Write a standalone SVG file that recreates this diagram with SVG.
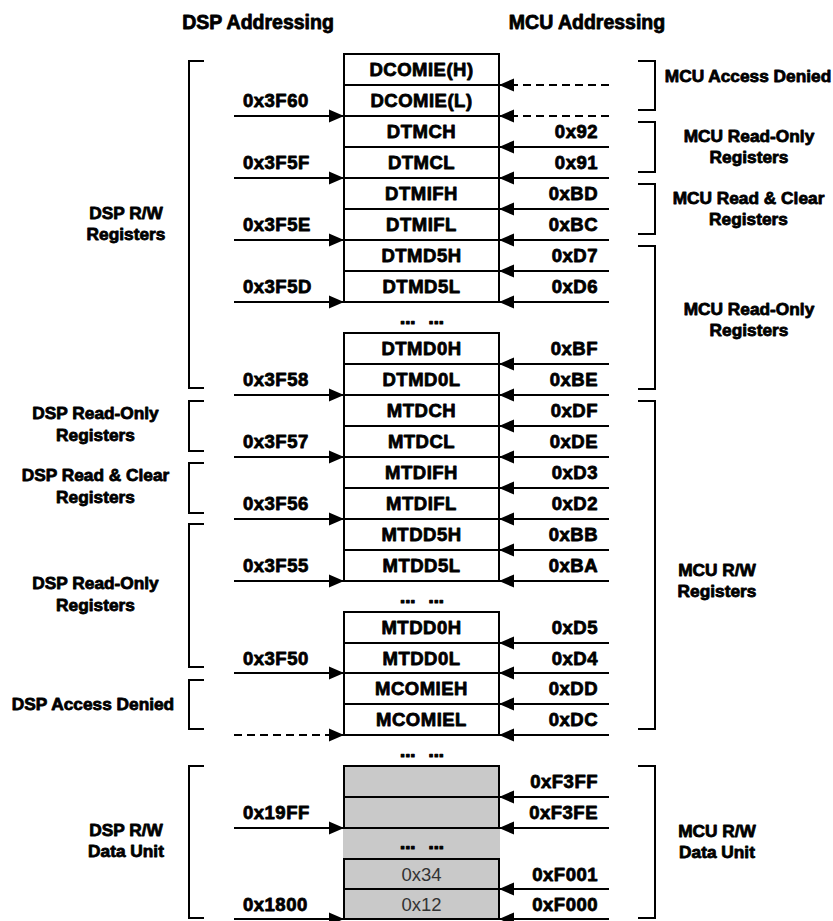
<svg xmlns="http://www.w3.org/2000/svg" width="833" height="921" viewBox="0 0 833 921">
<style>
text{font-family:"Liberation Sans",Arial,sans-serif;font-weight:bold;fill:#000;stroke:#000;stroke-width:0.8;stroke-linejoin:round}
.h{font-size:19.5px;text-anchor:middle}
.c{font-size:18.5px;text-anchor:middle;letter-spacing:0.5px}
.v{font-size:18.5px;font-weight:normal;stroke:none;fill:#333;text-anchor:middle}
.l{font-size:18.5px;text-anchor:start;letter-spacing:0.5px}
.r{font-size:18.5px;text-anchor:end;letter-spacing:0.5px}
.b{font-size:17.3px;text-anchor:middle}
.d{font-size:18.5px;text-anchor:middle;word-spacing:8px;stroke-width:1.2}
.cell{fill:#fff;stroke:#000;stroke-width:2}
.gcell{fill:#c9c9c9;stroke:#000;stroke-width:2}
.ar{stroke:#000;stroke-width:2;fill:none;marker-end:url(#ah)}
.da{stroke:#000;stroke-width:2;fill:none;stroke-dasharray:8,5;marker-end:url(#ah)}
.br{stroke:#000;stroke-width:2;fill:none}
</style>
<defs>
<marker id="ah" markerUnits="userSpaceOnUse" markerWidth="16" markerHeight="14" refX="15" refY="7" orient="auto">
<path d="M0,0.5 L15,7 L0,13.5 Z" fill="#000"/>
</marker>
</defs>
<rect width="833" height="921" fill="#fff"/>

<g id="headers">
<text class="h" x="258" y="29">DSP Addressing</text>
<text class="h" x="587" y="29">MCU Addressing</text>
</g>

<g id="brackets">
<path class="br" d="M204,61 H189 V388 H204"/>
<path class="br" d="M204,401 H189 V451 H204"/>
<path class="br" d="M204,463 H189 V513 H204"/>
<path class="br" d="M204,524 H189 V667 H204"/>
<path class="br" d="M204,680 H189 V729 H204"/>
<path class="br" d="M204,766 H189 V918 H204"/>
<path class="br" d="M638,61 H655 V110 H638"/>
<path class="br" d="M638,122 H655 V172 H638"/>
<path class="br" d="M638,184 H655 V234 H638"/>
<path class="br" d="M638,246 H655 V389 H638"/>
<path class="br" d="M638,401 H655 V729 H638"/>
<path class="br" d="M638,766 H655 V918 H638"/>
</g>

<g id="cells">
<g id="n-dcomieh"><rect class="cell" x="344" y="54" width="155" height="31"/><text class="c" x="421.5" y="75.5">DCOMIE(H)</text></g>
<g id="n-dcomiel"><rect class="cell" x="344" y="85" width="155" height="31"/><text class="c" x="421.5" y="106.5">DCOMIE(L)</text></g>
<g id="n-dtmch"><rect class="cell" x="344" y="116" width="155" height="31"/><text class="c" x="421.5" y="137.5">DTMCH</text></g>
<g id="n-dtmcl"><rect class="cell" x="344" y="147" width="155" height="31"/><text class="c" x="421.5" y="168.5">DTMCL</text></g>
<g id="n-dtmifh"><rect class="cell" x="344" y="178" width="155" height="31"/><text class="c" x="421.5" y="199.5">DTMIFH</text></g>
<g id="n-dtmifl"><rect class="cell" x="344" y="209" width="155" height="31"/><text class="c" x="421.5" y="230.5">DTMIFL</text></g>
<g id="n-dtmd5h"><rect class="cell" x="344" y="240" width="155" height="31"/><text class="c" x="421.5" y="261.5">DTMD5H</text></g>
<g id="n-dtmd5l"><rect class="cell" x="344" y="271" width="155" height="31"/><text class="c" x="421.5" y="292.5">DTMD5L</text></g>
<g id="n-gap1"><text class="d" x="422" y="323.5">... ...</text></g>
<g id="n-dtmd0h"><rect class="cell" x="344" y="333" width="155" height="31"/><text class="c" x="421.5" y="354.5">DTMD0H</text></g>
<g id="n-dtmd0l"><rect class="cell" x="344" y="364" width="155" height="31"/><text class="c" x="421.5" y="385.5">DTMD0L</text></g>
<g id="n-mtdch"><rect class="cell" x="344" y="395" width="155" height="31"/><text class="c" x="421.5" y="416.5">MTDCH</text></g>
<g id="n-mtdcl"><rect class="cell" x="344" y="426" width="155" height="31"/><text class="c" x="421.5" y="447.5">MTDCL</text></g>
<g id="n-mtdifh"><rect class="cell" x="344" y="457" width="155" height="31"/><text class="c" x="421.5" y="478.5">MTDIFH</text></g>
<g id="n-mtdifl"><rect class="cell" x="344" y="488" width="155" height="31"/><text class="c" x="421.5" y="509.5">MTDIFL</text></g>
<g id="n-mtdd5h"><rect class="cell" x="344" y="519" width="155" height="31"/><text class="c" x="421.5" y="540.5">MTDD5H</text></g>
<g id="n-mtdd5l"><rect class="cell" x="344" y="550" width="155" height="31"/><text class="c" x="421.5" y="571.5">MTDD5L</text></g>
<g id="n-gap2"><text class="d" x="422" y="602.5">... ...</text></g>
<g id="n-mtdd0h"><rect class="cell" x="344" y="612" width="155" height="31"/><text class="c" x="421.5" y="633.5">MTDD0H</text></g>
<g id="n-mtdd0l"><rect class="cell" x="344" y="643" width="155" height="30"/><text class="c" x="421.5" y="664.5">MTDD0L</text></g>
<g id="n-mcomieh"><rect class="cell" x="344" y="673" width="155" height="31"/><text class="c" x="421.5" y="694.5">MCOMIEH</text></g>
<g id="n-mcomiel"><rect class="cell" x="344" y="704" width="155" height="31"/><text class="c" x="421.5" y="725.5">MCOMIEL</text></g>
<g id="n-gap3"><text class="d" x="422" y="757">... ...</text></g>
<g id="n-data1"><rect class="gcell" x="344" y="766" width="155" height="31"/></g>
<g id="n-data2"><rect class="gcell" x="344" y="797" width="155" height="31"/></g>
<g id="n-gap4"><rect x="343" y="829" width="157" height="29" fill="#c9c9c9"/><text class="d" x="422" y="849">... ...</text></g>
<g id="n-data3"><rect class="gcell" x="344" y="859" width="155" height="30"/><text class="v" x="421.5" y="880.5">0x34</text></g>
<g id="n-data4"><rect class="gcell" x="344" y="889" width="155" height="30"/><text class="v" x="421.5" y="910.5">0x12</text></g>
</g>

<g id="connectors">
<line class="ar" x1="234" y1="116" x2="344" y2="116"/>
<line class="ar" x1="234" y1="178" x2="344" y2="178"/>
<line class="ar" x1="234" y1="240" x2="344" y2="240"/>
<line class="ar" x1="234" y1="302" x2="344" y2="302"/>
<line class="ar" x1="234" y1="395" x2="344" y2="395"/>
<line class="ar" x1="234" y1="457" x2="344" y2="457"/>
<line class="ar" x1="234" y1="519" x2="344" y2="519"/>
<line class="ar" x1="234" y1="581" x2="344" y2="581"/>
<line class="ar" x1="234" y1="673" x2="344" y2="673"/>
<line class="da" x1="234" y1="735" x2="344" y2="735"/>
<line class="ar" x1="234" y1="828" x2="344" y2="828"/>
<line class="ar" x1="234" y1="919" x2="344" y2="919"/>

<line class="da" x1="609" y1="85" x2="499" y2="85"/>
<line class="da" x1="609" y1="116" x2="499" y2="116"/>
<line class="ar" x1="609" y1="147" x2="499" y2="147"/>
<line class="ar" x1="609" y1="178" x2="499" y2="178"/>
<line class="ar" x1="609" y1="209" x2="499" y2="209"/>
<line class="ar" x1="609" y1="240" x2="499" y2="240"/>
<line class="ar" x1="609" y1="271" x2="499" y2="271"/>
<line class="ar" x1="609" y1="302" x2="499" y2="302"/>
<line class="ar" x1="609" y1="364" x2="499" y2="364"/>
<line class="ar" x1="609" y1="395" x2="499" y2="395"/>
<line class="ar" x1="609" y1="426" x2="499" y2="426"/>
<line class="ar" x1="609" y1="457" x2="499" y2="457"/>
<line class="ar" x1="609" y1="488" x2="499" y2="488"/>
<line class="ar" x1="609" y1="519" x2="499" y2="519"/>
<line class="ar" x1="609" y1="550" x2="499" y2="550"/>
<line class="ar" x1="609" y1="581" x2="499" y2="581"/>
<line class="ar" x1="609" y1="643" x2="499" y2="643"/>
<line class="ar" x1="609" y1="673" x2="499" y2="673"/>
<line class="ar" x1="609" y1="704" x2="499" y2="704"/>
<line class="ar" x1="609" y1="735" x2="499" y2="735"/>
<line class="ar" x1="609" y1="797" x2="499" y2="797"/>
<line class="ar" x1="609" y1="828" x2="499" y2="828"/>
<line class="ar" x1="609" y1="889" x2="499" y2="889"/>
<line class="ar" x1="609" y1="919" x2="499" y2="919"/>
</g>

<g id="dsp-addresses">
<text class="l" x="243" y="106.5">0x3F60</text>
<text class="l" x="243" y="168.5">0x3F5F</text>
<text class="l" x="243" y="230.5">0x3F5E</text>
<text class="l" x="243" y="292.5">0x3F5D</text>
<text class="l" x="243" y="385.5">0x3F58</text>
<text class="l" x="243" y="447.5">0x3F57</text>
<text class="l" x="243" y="509.5">0x3F56</text>
<text class="l" x="243" y="571.5">0x3F55</text>
<text class="l" x="243" y="664.5">0x3F50</text>
<text class="l" x="243" y="818.5">0x19FF</text>
<text class="l" x="243" y="910.5">0x1800</text>
</g>

<g id="mcu-addresses">
<text class="r" x="598" y="137.5">0x92</text>
<text class="r" x="598" y="168.5">0x91</text>
<text class="r" x="598" y="199.5">0xBD</text>
<text class="r" x="598" y="230.5">0xBC</text>
<text class="r" x="598" y="261.5">0xD7</text>
<text class="r" x="598" y="292.5">0xD6</text>
<text class="r" x="598" y="354.5">0xBF</text>
<text class="r" x="598" y="385.5">0xBE</text>
<text class="r" x="598" y="416.5">0xDF</text>
<text class="r" x="598" y="447.5">0xDE</text>
<text class="r" x="598" y="478.5">0xD3</text>
<text class="r" x="598" y="509.5">0xD2</text>
<text class="r" x="598" y="540.5">0xBB</text>
<text class="r" x="598" y="571.5">0xBA</text>
<text class="r" x="598" y="633.5">0xD5</text>
<text class="r" x="598" y="664.5">0xD4</text>
<text class="r" x="598" y="694.5">0xDD</text>
<text class="r" x="598" y="725.5">0xDC</text>
<text class="r" x="598" y="787.5">0xF3FF</text>
<text class="r" x="598" y="818.5">0xF3FE</text>
<text class="r" x="598" y="880.5">0xF001</text>
<text class="r" x="598" y="910.5">0xF000</text>
</g>

<g id="dsp-labels">
<text class="b" x="126" y="219">DSP R/W</text>
<text class="b" x="126" y="240">Registers</text>
<text class="b" x="95.5" y="419">DSP Read-Only</text>
<text class="b" x="95.5" y="441">Registers</text>
<text class="b" x="95.5" y="481">DSP Read &amp; Clear</text>
<text class="b" x="95.5" y="503">Registers</text>
<text class="b" x="95.5" y="589">DSP Read-Only</text>
<text class="b" x="95.5" y="611">Registers</text>
<text class="b" x="93" y="710">DSP Access Denied</text>
<text class="b" x="126" y="836">DSP R/W</text>
<text class="b" x="126" y="857">Data Unit</text>
</g>

<g id="mcu-labels">
<text class="b" x="748" y="82">MCU Access Denied</text>
<text class="b" x="749" y="142">MCU Read-Only</text>
<text class="b" x="749" y="163">Registers</text>
<text class="b" x="748.5" y="203.5">MCU Read &amp; Clear</text>
<text class="b" x="748.5" y="224.5">Registers</text>
<text class="b" x="749" y="315">MCU Read-Only</text>
<text class="b" x="749" y="336">Registers</text>
<text class="b" x="717" y="576">MCU R/W</text>
<text class="b" x="717" y="597">Registers</text>
<text class="b" x="717" y="837">MCU R/W</text>
<text class="b" x="717" y="858">Data Unit</text>
</g>
</svg>
